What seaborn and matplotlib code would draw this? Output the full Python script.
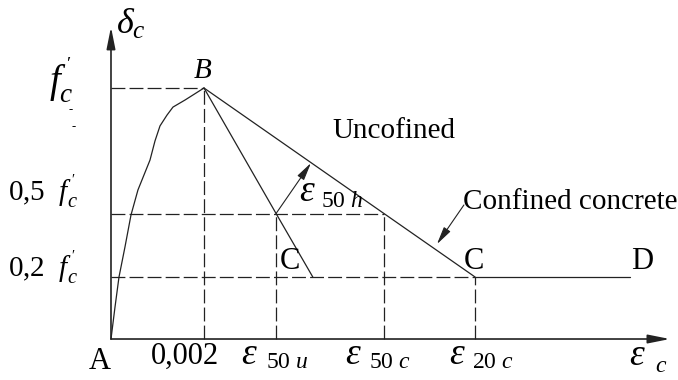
import numpy as np
import pandas as pd
import matplotlib
matplotlib.use("Agg")
import matplotlib.pyplot as plt
import seaborn as sns

sns.set_theme(style="white")
plt.rcParams["font.family"] = ["Liberation Serif", "DejaVu Serif"]
plt.rcParams["mathtext.fontset"] = "custom"
plt.rcParams["mathtext.rm"] = "Liberation Serif"
plt.rcParams["mathtext.it"] = "Liberation Serif:italic"
plt.rcParams["mathtext.bf"] = "Liberation Serif:bold"
plt.rcParams["lines.scale_dashes"] = False

# Ascending branch A-B (strain, relative stress)
rise_strain = [0.0, 0.000086, 0.000172, 0.000301, 0.00043, 0.00058,
               0.000839, 0.000946, 0.001054, 0.001204, 0.001333,
               0.001591, 0.002]
rise_stress = [0.0, 0.127, 0.247, 0.367, 0.494, 0.594,
               0.713, 0.789, 0.849, 0.892, 0.924,
               0.952, 1.0]

# Characteristic strains
eps_0 = 0.002
eps_50u = 0.00355
eps_50c = 0.00587
eps_20c = 0.00783
eps_u_end = 0.00434
eps_D = 0.01116
eps_axis_end = 0.01202

# Characteristic stress levels (relative to f'c)
s_peak = 1.0
s_half = 0.5
s_residual = 0.247
s_axis_end = 1.243

ink = "#222222"

fig = plt.figure(figsize=(6.78, 3.80), dpi=100)
ax = fig.add_axes([0, 0, 1, 1])
ax.set_xlim(-0.002387, 0.012194)
ax.set_ylim(-0.1633, 1.3506)
ax.axis("off")


def seg(xs, ys, dashed=False, lw=0.9):
    df = pd.DataFrame({"strain": xs, "stress": ys})
    line = sns.lineplot(data=df, x="strain", y="stress", ax=ax, sort=False,
                        estimator=None, color=ink, lw=lw)
    if dashed:
        line.lines[-1].set_linestyle((0, (10, 3)))


# Dashed reference lines
seg([0, eps_0], [s_peak, s_peak], dashed=True)
seg([0, eps_50c], [s_half, s_half], dashed=True)
seg([0, eps_20c], [s_residual, s_residual], dashed=True)
seg([eps_0, eps_0], [0, s_peak], dashed=True)
seg([eps_50u, eps_50u], [0, s_half], dashed=True)
seg([eps_50c, eps_50c], [0, s_half], dashed=True)
seg([eps_20c, eps_20c], [0, s_residual], dashed=True)

# Stress-strain branches
seg(rise_strain, rise_stress)
seg([eps_0, eps_50u, eps_u_end], [s_peak, s_half, s_residual])
seg([eps_0, eps_50c, eps_20c], [s_peak, s_half, s_residual])
seg([eps_20c, eps_D], [s_residual, s_residual])

# Coordinate axes with arrows
arrow_kw = dict(arrowstyle="-|>,head_length=1.1,head_width=0.22",
                color=ink, lw=1.2, shrinkA=0, shrinkB=0)
ax.annotate("", xy=(eps_axis_end, 0), xytext=(0, 0), arrowprops=arrow_kw)
ax.annotate("", xy=(0, s_axis_end), xytext=(0, 0), arrowprops=arrow_kw)

# Pointer arrows
small_arrow = dict(arrowstyle="-|>,head_length=0.9,head_width=0.2",
                   color=ink, lw=0.8, shrinkA=0, shrinkB=0)
ax.annotate("", xy=(0.00430, 0.701), xytext=(eps_50u, s_half),
            arrowprops=small_arrow)
ax.annotate("", xy=(0.00701, 0.378), xytext=(0.00759, 0.534),
            arrowprops=small_arrow)


# Labels placed in figure-pixel positions
def px(x, y):
    return ((x - 111) / 93 * 0.002, (339 - y) / 251)


def label(s, x, y, size=19, ha="center", va="center", **kw):
    ax.text(*px(x, y), s, fontsize=size, ha=ha, va=va, color="black", **kw)


def strain_label(sub, x_eps, y_eps, x_sub, y_sub):
    label(r"$\varepsilon$", x_eps, y_eps, size=27)
    label(sub, x_sub, y_sub, size=17, ha="left")


label(r"$\delta_c$", 116, 25, size=26, ha="left")
label(r"$f^{\,'}_{c}$", 61, 80, size=28)
label("-", 71, 110, size=9)
label("-", 74, 127, size=9)
label(r"0,5  $f^{\,'}_{c}$", 8, 192, size=21, ha="left")
label(r"0,2  $f^{\,'}_{c}$", 8, 268, size=21, ha="left")
label("A", 100, 361, size=22)
label("0,002", 185, 356, size=22)
strain_label(r"$\mathrm{50}\ u$", 249, 355, 266, 362)
strain_label(r"$\mathrm{50}\ c$", 353, 355, 369, 362)
strain_label(r"$\mathrm{20}\ c$", 457, 355, 472, 362)
strain_label(r"$c$", 637, 356, 655, 366)
strain_label(r"$\mathrm{50}\ h$", 307, 192, 321, 201)
label(r"$B$", 203, 71, size=21)
label("C", 290, 261, size=22)
label("C", 474, 261, size=22)
label("D", 642, 261, size=22)
label("Uncofined", 332, 131, size=21, ha="left")
label("Confined concrete", 463, 202, size=21, ha="left")

fig.savefig("out.png", dpi=100)
